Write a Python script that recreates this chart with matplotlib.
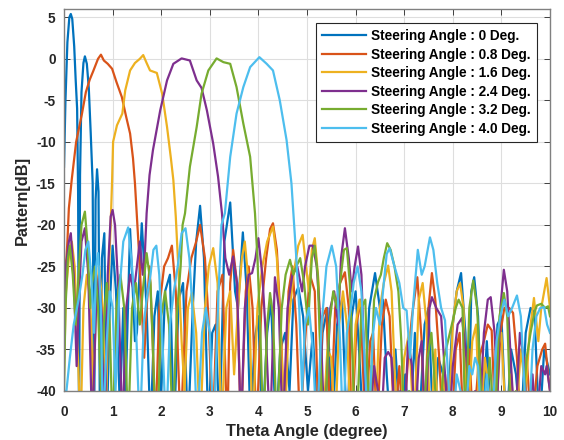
import matplotlib
matplotlib.use("Agg")
import matplotlib.pyplot as plt

plt.rcParams['font.family'] = ['Liberation Sans', 'DejaVu Sans']
plt.rcParams['font.weight'] = 'bold'
plt.rcParams['axes.unicode_minus'] = False

# beam pattern samples (theta in degree, pattern in dB), one pair per steering angle
th_00 = [0.00, 0.03, 0.07, 0.11, 0.14, 0.17, 0.21, 0.24, 0.27, 0.29, 0.31, 0.33, 0.36, 0.40, 0.43, 0.47,
         0.51, 0.55, 0.59, 0.62, 0.65, 0.68, 0.71, 0.74, 0.78, 0.83, 0.88, 0.94, 1.00, 1.07, 1.15, 1.22,
         1.26, 1.36, 1.46, 1.50, 1.60, 1.70, 1.78, 1.86, 1.93, 1.99, 2.08, 2.18, 2.26, 2.36, 2.45, 2.55,
         2.65, 2.72, 2.80, 2.88, 2.97, 3.05, 3.12, 3.20, 3.30, 3.42, 3.52, 3.58, 3.68, 3.76, 3.84, 3.92,
         4.00, 4.08, 4.18, 4.26, 4.36, 4.45, 4.55, 4.64, 4.72, 4.82, 4.92, 5.02, 5.12, 5.22, 5.32, 5.42,
         5.52, 5.62, 5.72, 5.82, 5.92, 6.00, 6.08, 6.16, 6.28, 6.40, 6.50, 6.56, 6.64, 6.72, 6.82, 6.92,
         7.02, 7.12, 7.22, 7.30, 7.42, 7.50, 7.60, 7.70, 7.80, 7.88, 7.98, 8.08, 8.17, 8.26, 8.32, 8.38,
         8.44, 8.52, 8.60, 8.70, 8.80, 8.92, 9.00, 9.10, 9.20, 9.30, 9.40, 9.50, 9.60, 9.68, 9.78, 9.88, 10.0]
db_00 = [-13, -5, 2, 5, 5.4, 4.8, 1.5, -2.5, -6, -16, -45, -14, -4, -0.5, 0.3, -0.6,
         -3.5, -9, -15, -45, -17, -13.3, -16, -45, -24, -21, -45, -30, -22.5, -28, -42, -30,
         -42, -20.5, -34, -33, -19.8, -30, -45, -31, -28, -42, -28, -26, -45, -29, -27, -45,
         -30, -22, -17.7, -24, -45, -33, -32, -45, -22, -17.3, -28, -30, -20.9, -28, -45, -34,
         -31, -45, -33, -29, -45, -35, -33, -40, -29, -27.5, -31, -40, -33, -45, -33, -30,
         -45, -32, -29, -45, -31, -28, -36, -45, -30, -25.8, -30, -29, -38, -45, -35, -45,
         -38, -45, -33, -45, -32, -30, -45, -36, -38, -45, -33, -28, -25.8, -33, -45, -28,
         -26.3, -31, -45, -34, -45, -32, -31, -45, -35, -38, -45, -33, -30, -30.5, -45, -35, -38]

th_08 = [0.00, 0.03, 0.05, 0.07, 0.10, 0.16, 0.25, 0.37, 0.45, 0.53, 0.60, 0.70, 0.76, 0.82, 0.90, 0.99,
         1.08, 1.19, 1.28, 1.36, 1.42, 1.46, 1.50, 1.55, 1.60, 1.65, 1.70, 1.76, 1.82, 1.88, 1.96, 2.06,
         2.14, 2.22, 2.30, 2.40, 2.52, 2.62, 2.72, 2.80, 2.90, 2.98, 3.06, 3.16, 3.26, 3.36, 3.42, 3.48,
         3.56, 3.64, 3.74, 3.80, 3.88, 3.96, 4.06, 4.16, 4.24, 4.30, 4.38, 4.46, 4.54, 4.62, 4.70, 4.78,
         4.86, 4.96, 5.06, 5.16, 5.24, 5.32, 5.40, 5.48, 5.58, 5.68, 5.78, 5.86, 5.92, 6.02, 6.10, 6.20,
         6.30, 6.36, 6.44, 6.54, 6.62, 6.70, 6.80, 6.90, 6.98, 7.08, 7.16, 7.27, 7.36, 7.42, 7.50, 7.57,
         7.64, 7.72, 7.80, 7.90, 7.98, 8.06, 8.14, 8.22, 8.34, 8.42, 8.54, 8.64, 8.72, 8.80, 8.88, 8.98,
         9.06, 9.16, 9.24, 9.32, 9.40, 9.52, 9.62, 9.74, 9.84, 9.90, 9.96, 10.0]
db_08 = [-36, -25, -24, -22, -18, -14.5, -10, -6.6, -4, -2.5, -1.5, 0, 0.5, -0.2, -0.6, -1.2,
         -2.8, -4.6, -7, -9, -12, -15, -19, -24, -30, -36, -30, -25, -33, -45, -30, -25,
         -24, -22.5, -28, -45, -28, -24, -22, -20, -24, -32, -45, -28, -26, -45, -27, -23,
         -27, -45, -28, -25, -30, -45, -30, -24, -20.5, -19.8, -23, -32, -45, -28, -25, -32,
         -45, -34, -26, -28, -45, -31, -30, -45, -30, -27, -25.7, -30, -45, -32, -29, -45,
         -34, -33, -45, -32, -29, -31, -45, -37, -45, -36, -31, -26.3, -34, -45, -30, -25.8,
         -29, -36, -45, -38, -45, -35, -33, -45, -35, -45, -36, -34, -32, -32.7, -45, -33,
         -30, -30, -30.6, -36, -45, -36, -45, -37, -35, -34.3, -38, -40]

th_16 = [0.00, 0.04, 0.10, 0.16, 0.22, 0.30, 0.34, 0.40, 0.47, 0.54, 0.60, 0.66, 0.72, 0.80, 0.86, 0.92,
         0.96, 0.99, 1.01, 1.09, 1.20, 1.26, 1.36, 1.46, 1.56, 1.63, 1.70, 1.77, 1.91, 2.02, 2.12, 2.20,
         2.25, 2.30, 2.36, 2.42, 2.48, 2.55, 2.63, 2.72, 2.80, 2.90, 2.98, 3.07, 3.16, 3.24, 3.34, 3.42,
         3.50, 3.58, 3.66, 3.72, 3.80, 3.88, 3.98, 4.08, 4.18, 4.30, 4.38, 4.46, 4.54, 4.62, 4.72, 4.82,
         4.91, 4.98, 5.04, 5.10, 5.16, 5.24, 5.32, 5.42, 5.50, 5.58, 5.66, 5.74, 5.82, 5.90, 6.00, 6.08,
         6.16, 6.24, 6.32, 6.40, 6.50, 6.58, 6.67, 6.74, 6.82, 6.90, 7.00, 7.10, 7.20, 7.30, 7.38, 7.46,
         7.54, 7.64, 7.70, 7.80, 7.90, 8.00, 8.08, 8.15, 8.22, 8.30, 8.40, 8.48, 8.56, 8.66, 8.74, 8.82,
         8.92, 9.00, 9.10, 9.20, 9.28, 9.40, 9.50, 9.58, 9.67, 9.76, 9.82, 9.93, 10.0]
db_16 = [-38, -28, -24, -22, -25, -38, -45, -30, -26, -29, -40, -30, -25, -30, -45, -26,
         -20, -14.6, -10, -8, -6.6, -3.8, -1.4, -0.5, 0, 0.45, -0.5, -1.4, -1.7, -4.2, -8.2, -12,
         -14.6, -19, -26, -34, -40, -30, -28.2, -33, -45, -30, -25, -22.8, -27, -45, -30, -28,
         -38, -30, -24, -22, -27, -45, -30, -25, -22, -20.2, -24, -33, -45, -32, -26, -22.5,
         -21.2, -25, -28, -23, -21.6, -27, -45, -35, -36, -45, -32, -28, -32, -45, -32, -29,
         -33, -45, -37, -45, -30, -27, -24.9, -28, -40, -45, -36, -33, -45, -29, -27, -32,
         -45, -35, -45, -38, -45, -32, -28, -27, -30, -45, -34, -32, -45, -36, -40, -45,
         -35, -33, -45, -38, -45, -35, -40, -33, -28.8, -34, -30, -26.4, -30]

th_24 = [0.00, 0.04, 0.10, 0.14, 0.20, 0.26, 0.30, 0.36, 0.43, 0.50, 0.58, 0.66, 0.72, 0.78, 0.84, 0.90,
         0.96, 1.00, 1.05, 1.12, 1.20, 1.28, 1.36, 1.44, 1.50, 1.56, 1.62, 1.66, 1.70, 1.76, 1.83, 1.98,
         2.12, 2.25, 2.42, 2.59, 2.73, 2.83, 2.94, 3.07, 3.17, 3.25, 3.32, 3.40, 3.48, 3.56, 3.64, 3.72,
         3.80, 3.87, 3.94, 4.00, 4.08, 4.16, 4.24, 4.34, 4.42, 4.50, 4.60, 4.70, 4.80, 4.90, 4.96, 5.05,
         5.12, 5.20, 5.28, 5.36, 5.48, 5.56, 5.64, 5.70, 5.78, 5.86, 5.92, 5.98, 6.05, 6.12, 6.20, 6.28,
         6.38, 6.46, 6.52, 6.60, 6.67, 6.74, 6.82, 6.92, 7.00, 7.08, 7.16, 7.22, 7.30, 7.36, 7.44, 7.52,
         7.57, 7.66, 7.76, 7.84, 7.92, 8.00, 8.10, 8.19, 8.28, 8.36, 8.46, 8.54, 8.64, 8.72, 8.78, 8.86,
         8.92, 8.98, 9.05, 9.12, 9.20, 9.28, 9.38, 9.46, 9.54, 9.64, 9.72, 9.82, 9.90, 9.93, 10.0]
db_24 = [-30, -25, -22, -21, -26, -37, -30, -22, -20.4, -26, -45, -30, -26, -31, -45, -26,
         -19, -18.2, -20, -28, -45, -30, -26, -28, -25, -22, -26, -24, -18.6, -14, -11, -6.2,
         -2.6, -0.6, 0.05, -0.2, -2.6, -3.5, -6.2, -10.2, -14.2, -18.6, -24, -26, -23.8, -27, -45, -30,
         -26, -25.8, -24, -21.6, -26, -34, -45, -26.3, -30, -45, -30, -26, -25, -28, -25, -22.5,
         -22.5, -25, -32, -45, -30, -28, -32, -24, -20.4, -24, -28, -25, -22.6, -26, -40, -45,
         -37, -40, -45, -36, -35.3, -36, -45, -40, -45, -34, -37, -45, -36, -34, -45, -30,
         -28.7, -30, -31, -38, -45, -37, -32, -31.2, -36, -45, -40, -45, -33, -29, -28.7, -33,
         -40, -30, -25.4, -28, -37, -45, -33, -36, -45, -38, -45, -37, -38, -37, -40]

th_32 = [0.00, 0.03, 0.08, 0.12, 0.18, 0.24, 0.30, 0.36, 0.43, 0.48, 0.54, 0.58, 0.64, 0.70, 0.76, 0.82,
         0.88, 0.94, 1.00, 1.08, 1.16, 1.24, 1.32, 1.40, 1.48, 1.56, 1.62, 1.70, 1.78, 1.86, 1.92, 2.00,
         2.08, 2.16, 2.24, 2.32, 2.40, 2.44, 2.49, 2.59, 2.73, 2.83, 2.97, 3.14, 3.28, 3.42, 3.55, 3.69,
         3.83, 3.93, 3.98, 4.04, 4.10, 4.18, 4.24, 4.30, 4.38, 4.48, 4.56, 4.65, 4.72, 4.78, 4.86, 4.94,
         5.02, 5.10, 5.16, 5.22, 5.30, 5.36, 5.46, 5.54, 5.62, 5.70, 5.76, 5.82, 5.88, 5.96, 6.02, 6.12,
         6.20, 6.28, 6.38, 6.46, 6.52, 6.58, 6.65, 6.72, 6.80, 6.88, 6.94, 7.00, 7.10, 7.20, 7.30, 7.38,
         7.48, 7.56, 7.64, 7.72, 7.82, 7.90, 7.98, 8.06, 8.12, 8.20, 8.26, 8.34, 8.42, 8.50, 8.58, 8.66,
         8.76, 8.86, 8.96, 9.05, 9.12, 9.20, 9.30, 9.40, 9.52, 9.60, 9.68, 9.73, 9.82, 9.90, 9.96, 10.0]
db_32 = [-40, -30, -24, -22.5, -26, -32, -26, -20, -18.4, -22, -30, -27, -25, -30, -40, -32,
         -27, -32, -45, -30, -26, -30, -45, -30, -27, -32, -28, -23.4, -27, -40, -45, -31,
         -28, -32, -45, -31, -25, -20, -18.6, -13, -8.2, -4.2, -1.4, 0.05, -0.4, -0.6, -3.4, -7.8,
         -11.8, -18.6, -24, -33, -45, -32, -28.2, -31, -45, -30, -26, -24.2, -26, -25, -24, -27,
         -32, -24, -22.5, -26, -40, -45, -32, -28, -30, -26, -23, -22.8, -27, -40, -45, -30,
         -29, -45, -29, -26.9, -26, -24, -22.2, -23, -25, -28, -34, -45, -40, -45, -40, -45,
         -36, -33, -40, -45, -36, -34, -32, -30, -29, -30, -45, -30, -26.7, -30, -40, -45,
         -36, -45, -31, -28.2, -31, -45, -40, -45, -36, -33, -30.5, -29.7, -29.5, -30, -29.8, -31]

th_40 = [0.00, 0.05, 0.12, 0.20, 0.30, 0.38, 0.44, 0.50, 0.56, 0.62, 0.66, 0.70, 0.76, 0.80, 0.88, 0.94,
         1.00, 1.06, 1.14, 1.22, 1.32, 1.40, 1.48, 1.56, 1.64, 1.70, 1.78, 1.84, 1.90, 1.96, 2.04, 2.10,
         2.18, 2.26, 2.34, 2.42, 2.50, 2.58, 2.66, 2.74, 2.84, 2.92, 3.00, 3.08, 3.18, 3.24, 3.31, 3.42,
         3.55, 3.69, 3.83, 4.02, 4.17, 4.30, 4.44, 4.58, 4.68, 4.72, 4.78, 4.84, 4.90, 4.96, 5.04, 5.12,
         5.20, 5.30, 5.40, 5.51, 5.60, 5.68, 5.74, 5.82, 5.90, 5.96, 6.04, 6.12, 6.20, 6.26, 6.36, 6.42,
         6.50, 6.58, 6.64, 6.70, 6.80, 6.90, 6.98, 7.05, 7.12, 7.18, 7.28, 7.36, 7.42, 7.53, 7.60, 7.68,
         7.76, 7.84, 7.92, 8.00, 8.08, 8.16, 8.24, 8.34, 8.40, 8.46, 8.52, 8.60, 8.70, 8.80, 8.90, 8.98,
         9.06, 9.14, 9.22, 9.32, 9.40, 9.48, 9.56, 9.64, 9.72, 9.80, 9.88, 9.94, 10.0]
db_40 = [-40, -40, -36, -32, -29, -26, -23, -22, -26, -33, -25, -23.4, -30, -45, -34, -28,
         -30, -40, -28, -22, -20.3, -25, -32, -45, -32, -29, -26, -23, -22.5, -26, -36, -45,
         -32, -28, -25, -21, -20.4, -24, -32, -45, -33, -30, -33, -45, -28, -20, -18.6, -11.8,
         -6.6, -3.4, -1, 0.2, -0.6, -1.4, -5, -9.8, -15, -18.6, -24, -30, -40, -32, -30, -35,
         -45, -32, -25, -22.5, -25, -34, -45, -33, -30, -27, -25, -28, -38, -45, -33, -30,
         -32, -27, -23.5, -22.8, -25, -27, -30, -30.3, -36, -30, -23, -26, -25, -21.5, -23, -27,
         -30, -31.5, -40, -45, -38, -40, -45, -37, -38, -36, -37, -45, -38, -45, -34, -31,
         -29, -31, -30, -28.5, -31, -40, -45, -35, -31, -30, -29.9, -32, -33]

labels = ['Steering Angle : 0 Deg.', 'Steering Angle : 0.8 Deg.', 'Steering Angle : 1.6 Deg.',
          'Steering Angle : 2.4 Deg.', 'Steering Angle : 3.2 Deg.', 'Steering Angle : 4.0 Deg.']
series = [(th_00, db_00), (th_08, db_08), (th_16, db_16),
          (th_24, db_24), (th_32, db_32), (th_40, db_40)]
colors = ['#0072BD', '#D95319', '#EDB120', '#7E2F8E', '#77AC30', '#4DBEEE']

fig = plt.figure(figsize=(5.64, 4.4), dpi=100)
ax = fig.add_axes([64 / 564, 49 / 440, 486 / 564, 382 / 440])

for (th, db), c, lab in zip(series, colors, labels):
    ax.plot(th, db, color=c, lw=1.6, label=lab)

ax.set_xlim(0, 10)
ax.set_ylim(-40, 6)
ax.set_xticks(range(0, 11))
ax.set_yticks(range(-40, 6, 5))
ax.grid(True, color='#dedede', lw=0.8)
ax.set_axisbelow(True)
ax.tick_params(direction='in', top=True, right=True, length=4, width=0.6,
               labelsize=9.8, colors='#262626')
ax.tick_params(axis='x', pad=10)
ax.tick_params(axis='y', pad=6)
for sp in ax.spines.values():
    sp.set_color('#808080')
    sp.set_linewidth(1.0)

ax.set_xlabel('Theta Angle (degree)', fontsize=11.8, fontweight='bold', color='#262626', labelpad=4)
ax.set_ylabel('Pattern[dB]', fontsize=11.8, fontweight='bold', color='#262626', labelpad=4)

leg = ax.legend(loc='upper right', bbox_to_anchor=((537 - 64) / 486, (391 - 23) / 382),
                borderaxespad=0, fancybox=False, framealpha=1, edgecolor='#262626',
                prop={'size': 9.8, 'weight': 'bold'}, handlelength=3.2, handletextpad=0.4,
                labelspacing=0.33, borderpad=0.45)
leg.get_frame().set_linewidth(0.8)

fig.savefig('out.png', dpi=100)
